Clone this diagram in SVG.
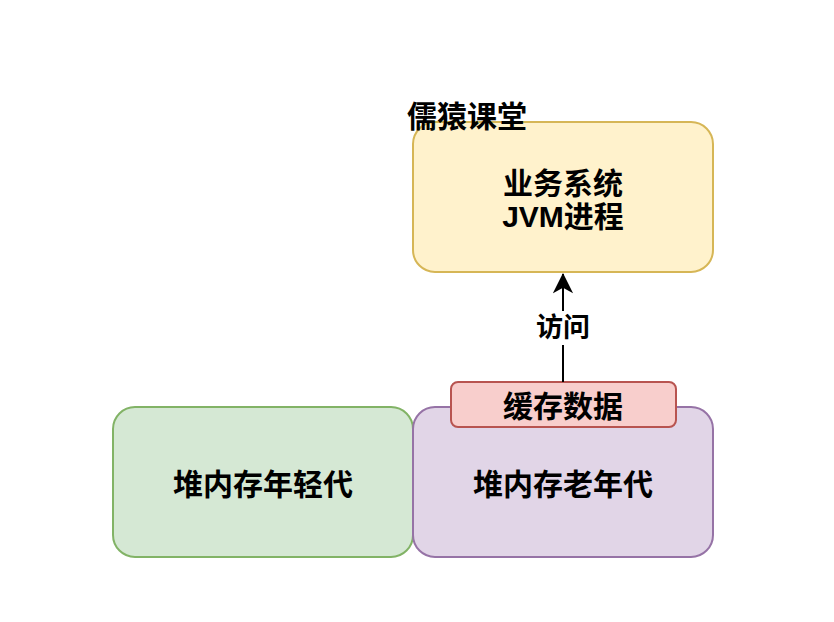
<svg xmlns="http://www.w3.org/2000/svg" width="834" height="622" viewBox="0 0 834 622">
<style>
.t{font-family:"Liberation Sans","Noto Sans CJK SC",sans-serif;font-weight:bold;font-size:30px;fill:#000;text-anchor:middle;dominant-baseline:central}
.box{stroke-width:2}
</style>
<defs>
<marker id="arr" viewBox="0 0 22 24" refX="21" refY="11" markerWidth="24" markerHeight="22" markerUnits="userSpaceOnUse" orient="auto">
<path d="M0,0 L22,11 L0,22 L6,11 Z" fill="#000"/>
</marker>
</defs>
<rect width="834" height="622" fill="#fff"/>
<g id="jvm">
<rect class="box" x="413" y="122" width="300" height="150" rx="22" fill="#fff2cc" stroke="#d6b656"/>
<text class="t" x="563" y="183">业务系统</text>
<text class="t" x="563" y="216">JVM进程</text>
</g>
<g id="title"><text class="t" x="467" y="116">儒猿课堂</text></g>
<g id="young">
<rect class="box" x="113" y="407" width="300" height="150" rx="22" fill="#d5e8d4" stroke="#82b366"/>
<text class="t" x="263" y="484">堆内存年轻代</text>
</g>
<g id="old">
<rect class="box" x="413" y="407" width="300" height="150" rx="22" fill="#e1d5e7" stroke="#9673a6"/>
<text class="t" x="563" y="484">堆内存老年代</text>
</g>
<g id="cache">
<rect class="box" x="451" y="382" width="225" height="45" rx="7" fill="#f8cecc" stroke="#b85450"/>
<text class="t" x="563" y="406">缓存数据</text>
</g>
<g id="connectors">
<line x1="563" y1="382" x2="563" y2="274" stroke="#000" stroke-width="2" marker-end="url(#arr)"/>
<rect x="533" y="311" width="60" height="34" fill="#fff"/>
<text class="t" x="563" y="328" style="font-size:27px">访问</text>
</g>
</svg>
